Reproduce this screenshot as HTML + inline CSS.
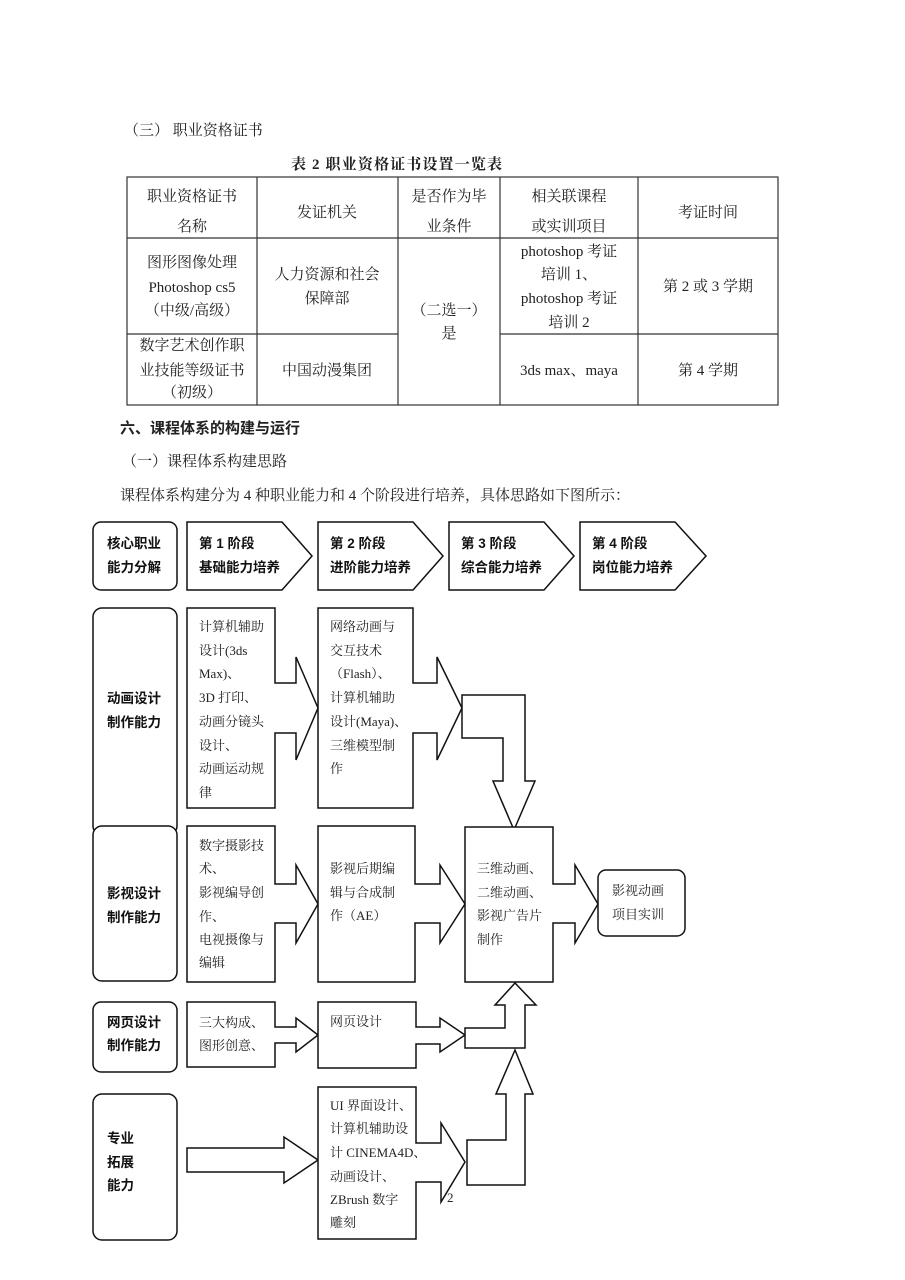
<!DOCTYPE html>
<html><head><meta charset="utf-8"><style>
html,body{margin:0;padding:0;background:#fff;}
svg{display:block;}
.s{font-family:"Liberation Serif","Noto Serif CJK SC",serif;}
.b{font-family:"Liberation Sans","Noto Sans CJK SC",sans-serif;font-weight:bold;}
</style></head><body>
<svg width="905" height="1280" viewBox="0 0 905 1280" xmlns="http://www.w3.org/2000/svg">
<g class="s" font-size="15" fill="#222">
<text x="124" y="135">（三）  职业资格证书</text>
<text x="291" y="169" font-weight="bold" textLength="211">表 2  职业资格证书设置一览表</text>
</g>
<g fill="none" stroke="#333" stroke-width="1.2">
<rect x="127" y="177" width="651" height="228"/>
<line x1="127" y1="238" x2="778" y2="238"/>
<line x1="127" y1="334" x2="398" y2="334"/>
<line x1="500" y1="334" x2="778" y2="334"/>
<line x1="257" y1="177" x2="257" y2="405"/>
<line x1="398" y1="177" x2="398" y2="405"/>
<line x1="500" y1="177" x2="500" y2="405"/>
<line x1="638" y1="177" x2="638" y2="405"/>
</g>
<g class="s" font-size="15" fill="#222" text-anchor="middle">
<text x="192" y="201">职业资格证书</text><text x="192" y="231">名称</text>
<text x="327" y="217">发证机关</text>
<text x="449" y="201">是否作为毕</text><text x="449" y="231">业条件</text>
<text x="569" y="201">相关联课程</text><text x="569" y="231">或实训项目</text>
<text x="708" y="217">考证时间</text>
<text x="192" y="267">图形图像处理</text><text x="192" y="292">Photoshop cs5</text><text x="192" y="315">（中级/高级）</text>
<text x="327" y="279">人力资源和社会</text><text x="327" y="303">保障部</text>
<text x="449" y="315">（二选一）</text><text x="449" y="338">是</text>
<text x="569" y="256">photoshop 考证</text><text x="569" y="279">培训 1、</text><text x="569" y="303">photoshop 考证</text><text x="569" y="327">培训 2</text>
<text x="708" y="291">第 2 或 3 学期</text>
<text x="192" y="350">数字艺术创作职</text><text x="192" y="375">业技能等级证书</text><text x="192" y="397">（初级）</text>
<text x="327" y="375">中国动漫集团</text>
<text x="569" y="375">3ds max、maya</text>
<text x="708" y="375">第 4 学期</text>
</g>
<g font-size="15" fill="#222">
<text class="b" x="120" y="433">六、课程体系的构建与运行</text>
<text class="s" x="122" y="466">（一）课程体系构建思路</text>
<text class="s" x="120" y="500">课程体系构建分为 4 种职业能力和 4 个阶段进行培养，具体思路如下图所示：</text>
</g>
<!-- diagram shapes -->
<g fill="#fff" stroke="#111" stroke-width="1.5">
<rect x="93" y="522" width="84" height="68" rx="8"/>
<polygon points="187,522 282,522 312,556 282,590 187,590"/>
<polygon points="318,522 413,522 443,556 413,590 318,590"/>
<polygon points="449,522 544,522 574,556 544,590 449,590"/>
<polygon points="580,522 675,522 706,556 675,590 580,590"/>
<rect x="93" y="608" width="84" height="227" rx="9"/>
<polygon points="187,608 275,608 275,683 296,683 296,657 318,708 296,760 296,733 275,733 275,808 187,808"/>
<polygon points="318,608 413,608 413,683 437,683 437,657 462,708 437,760 437,733 413,733 413,808 318,808"/>
<polygon points="462,695 525,695 525,781 535,781 514,830 493,781 503,781 503,738 462,738"/>
<rect x="93" y="826" width="84" height="155" rx="9"/>
<polygon points="187,826 275,826 275,884 296,884 296,865 318,904 296,943 296,923 275,923 275,982 187,982"/>
<polygon points="318,826 415,826 415,884 440,884 440,865 465,904 440,943 440,923 415,923 415,982 318,982"/>
<polygon points="465,827 553,827 553,884 575,884 575,865 598,904 575,943 575,923 553,923 553,982 465,982"/>
<rect x="598" y="870" width="87" height="66" rx="8"/>
<rect x="93" y="1002" width="84" height="70" rx="8"/>
<polygon points="187,1002 275,1002 275,1027 296,1027 296,1018 318,1035 296,1052 296,1043 275,1043 275,1067 187,1067"/>
<polygon points="318,1002 416,1002 416,1027 440,1027 440,1018 465,1035 440,1052 440,1044 416,1044 416,1068 318,1068"/>
<polygon points="465,1028 505,1028 505,1005 495,1005 515,983 536,1005 525,1005 525,1048 465,1048"/>
<rect x="93" y="1094" width="84" height="146" rx="9"/>
<polygon points="187,1148 284,1148 284,1137 318,1160 284,1183 284,1172 187,1172"/>
<polygon points="318,1087 416,1087 416,1143 441,1143 441,1123 465,1162 441,1202 441,1182 416,1182 416,1239 318,1239"/>
<polygon points="467,1140 506,1140 506,1094 496,1094 515,1050 533,1094 525,1094 525,1185 467,1185"/>
</g>
<g class="b" font-size="13.5" fill="#111">
<text x="107" y="548">核心职业</text><text x="107" y="572">能力分解</text>
<text x="199" y="548">第 1 阶段</text><text x="199" y="572">基础能力培养</text>
<text x="330" y="548">第 2 阶段</text><text x="330" y="572">进阶能力培养</text>
<text x="461" y="548">第 3 阶段</text><text x="461" y="572">综合能力培养</text>
<text x="592" y="548">第 4 阶段</text><text x="592" y="572">岗位能力培养</text>
<text x="107" y="703">动画设计</text><text x="107" y="727">制作能力</text>
<text x="107" y="898">影视设计</text><text x="107" y="922">制作能力</text>
<text x="107" y="1027">网页设计</text><text x="107" y="1050">制作能力</text>
<text x="107" y="1143">专业</text><text x="107" y="1167">拓展</text><text x="107" y="1190">能力</text>
</g>
<g class="s" font-size="13" fill="#222">
<text x="199" y="631">计算机辅助</text><text x="199" y="655">设计(3ds</text><text x="199" y="678">Max)、</text><text x="199" y="702">3D 打印、</text><text x="199" y="726">动画分镜头</text><text x="199" y="750">设计、</text><text x="199" y="773">动画运动规</text><text x="199" y="797">律</text>
<text x="330" y="631">网络动画与</text><text x="330" y="655">交互技术</text><text x="330" y="678">（Flash）、</text><text x="330" y="702">计算机辅助</text><text x="330" y="726">设计(Maya)、</text><text x="330" y="750">三维模型制</text><text x="330" y="773">作</text>
<text x="199" y="850">数字摄影技</text><text x="199" y="873">术、</text><text x="199" y="897">影视编导创</text><text x="199" y="921">作、</text><text x="199" y="944">电视摄像与</text><text x="199" y="967">编辑</text>
<text x="330" y="873">影视后期编</text><text x="330" y="897">辑与合成制</text><text x="330" y="920">作（AE）</text>
<text x="477" y="873">三维动画、</text><text x="477" y="897">二维动画、</text><text x="477" y="920">影视广告片</text><text x="477" y="944">制作</text>
<text x="612" y="895">影视动画</text><text x="612" y="919">项目实训</text>
<text x="199" y="1027">三大构成、</text><text x="199" y="1050">图形创意、</text>
<text x="330" y="1026">网页设计</text>
<text x="330" y="1110">UI 界面设计、</text><text x="330" y="1133">计算机辅助设</text><text x="330" y="1157">计 CINEMA4D、</text><text x="330" y="1181">动画设计、</text><text x="330" y="1204">ZBrush 数字</text><text x="330" y="1227">雕刻</text>
<text x="447" y="1202">2</text>
</g>
</svg>
</body></html>
